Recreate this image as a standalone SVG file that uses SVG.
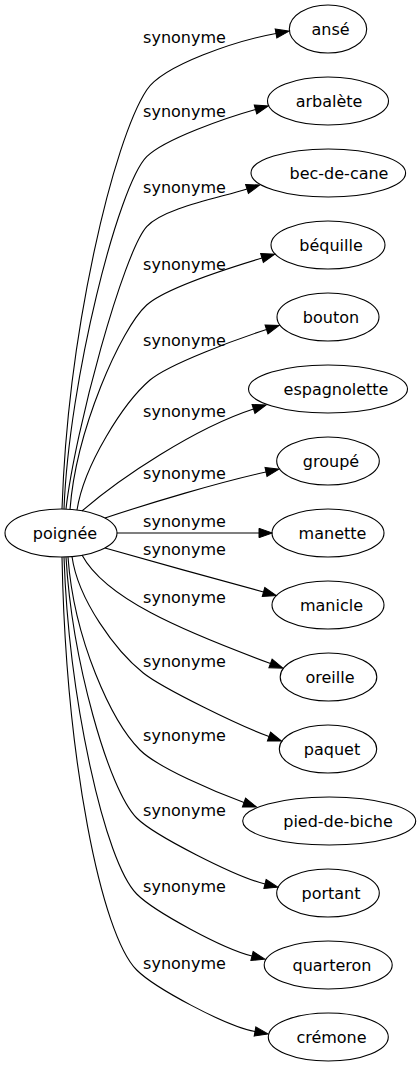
<svg xmlns="http://www.w3.org/2000/svg" width="419" height="1067" viewBox="0 0 419 1067">
<defs>
<style>
.node ellipse{fill:none;stroke:#000;stroke-width:1.1}
.node text{font-family:"DejaVu Sans",sans-serif;font-size:16px;text-anchor:middle;fill:#000}
.edges path{fill:none;stroke:#000;stroke-width:1.1;marker-end:url(#arr)}
.edges text{font-family:"DejaVu Sans",sans-serif;font-size:16px;text-anchor:middle;fill:#000}
</style>
<marker id="arr" markerWidth="16" markerHeight="12" refX="0" refY="4.67" orient="auto" markerUnits="userSpaceOnUse" overflow="visible">
<path d="M0,0 L13.3,4.67 L0,9.33 z" fill="#000" stroke="#000" stroke-width="1"/>
</marker>
</defs>
<rect width="419" height="1067" fill="#fff"/>
<g id="edges" class="edges">
<path d="M62,509 C68,330 113.7,140 146.7,90 C163.2,65.1 236.6,40.6 276,33.5"/>
<path d="M64,509 C69,380 118.4,185 146.7,156.7 C164.4,139 226.7,117.6 255.5,109.5"/>
<path d="M66,509 C75,430 123.3,252.6 146.7,226.7 C163.5,208.2 218.5,198 247,189"/>
<path d="M70,509.5 C76,430 120.8,328.5 146.7,305 C165.2,288.3 233.2,266.7 262,258"/>
<path d="M77,510 C84,465 123.4,402.8 150,380 C169,363.8 238,338.8 266.5,329.5"/>
<path d="M82,511 C120,478 195,428 253.5,409"/>
<path d="M105,518 C150,503 220,482 266,472"/>
<path d="M117,533 L259,533"/>
<path d="M105,548 C150,561 220,580 263.5,592"/>
<path d="M82,555 C105,598 180,630 270.5,663.5"/>
<path d="M72,556.5 C78,600 116,651.3 143.3,673 C162.8,688.5 240.8,726.3 269,736.5"/>
<path d="M68,557 C74,640 111.7,721.7 140,750 C157.7,767.7 215.8,792.3 244,802.5"/>
<path d="M66,557 C72,660 108.4,789.7 136.7,818 C154.4,835.7 235.9,876.8 265,884"/>
<path d="M64,557 C69,700 104.9,862.2 136.7,894 C154.4,911.7 222.9,948.8 252,956"/>
<path d="M62,557 C66,760 101.3,934.6 136.7,970 C154.4,987.7 225.3,1026.1 255,1031.5"/>
<text x="184.5" y="42.7">synonyme</text>
<text x="184.5" y="117.3">synonyme</text>
<text x="184.5" y="193.3">synonyme</text>
<text x="184.5" y="270">synonyme</text>
<text x="184.5" y="346">synonyme</text>
<text x="184.5" y="416.7">synonyme</text>
<text x="184.5" y="479.3">synonyme</text>
<text x="184.5" y="527.3">synonyme</text>
<text x="184.5" y="555">synonyme</text>
<text x="184.5" y="603.3">synonyme</text>
<text x="184.5" y="667.3">synonyme</text>
<text x="184.5" y="740.5">synonyme</text>
<text x="184.5" y="815.7">synonyme</text>
<text x="184.5" y="892.3">synonyme</text>
<text x="184.5" y="969">synonyme</text>
</g>
<g id="node-poignee" class="node"><ellipse cx="61" cy="533" rx="56" ry="24"/><text x="65" y="538.5">poignée</text></g>
<g id="node-anse" class="node"><ellipse cx="328" cy="29" rx="38.7" ry="24"/><text x="330.5" y="35">ansé</text></g>
<g id="node-arbalete" class="node"><ellipse cx="328" cy="101" rx="60.5" ry="24"/><text x="329" y="107">arbalète</text></g>
<g id="node-bec-de-cane" class="node"><ellipse cx="328.3" cy="173" rx="77.3" ry="24"/><text x="339" y="179">bec‑de‑cane</text></g>
<g id="node-bequille" class="node"><ellipse cx="328" cy="245" rx="57" ry="24"/><text x="331" y="251">béquille</text></g>
<g id="node-bouton" class="node"><ellipse cx="328" cy="317" rx="51" ry="24"/><text x="331" y="323">bouton</text></g>
<g id="node-espagnolette" class="node"><ellipse cx="328" cy="389" rx="79.5" ry="24"/><text x="336" y="395">espagnolette</text></g>
<g id="node-groupe" class="node"><ellipse cx="328" cy="461" rx="51.3" ry="24"/><text x="331" y="467">groupé</text></g>
<g id="node-manette" class="node"><ellipse cx="328" cy="533" rx="56" ry="24"/><text x="332.5" y="539">manette</text></g>
<g id="node-manicle" class="node"><ellipse cx="328" cy="605" rx="56" ry="24"/><text x="331.5" y="611">manicle</text></g>
<g id="node-oreille" class="node"><ellipse cx="328.5" cy="677" rx="48.3" ry="24"/><text x="330" y="683">oreille</text></g>
<g id="node-paquet" class="node"><ellipse cx="328" cy="749" rx="48.7" ry="24"/><text x="332" y="755">paquet</text></g>
<g id="node-pied-de-biche" class="node"><ellipse cx="329.2" cy="821" rx="86.5" ry="24"/><text x="338" y="827">pied‑de‑biche</text></g>
<g id="node-portant" class="node"><ellipse cx="328" cy="893" rx="51.3" ry="24"/><text x="331" y="899">portant</text></g>
<g id="node-quarteron" class="node"><ellipse cx="328.2" cy="965" rx="64" ry="24"/><text x="332" y="971">quarteron</text></g>
<g id="node-cremone" class="node"><ellipse cx="328.3" cy="1037" rx="60" ry="24"/><text x="331.5" y="1043">crémone</text></g>
</svg>
